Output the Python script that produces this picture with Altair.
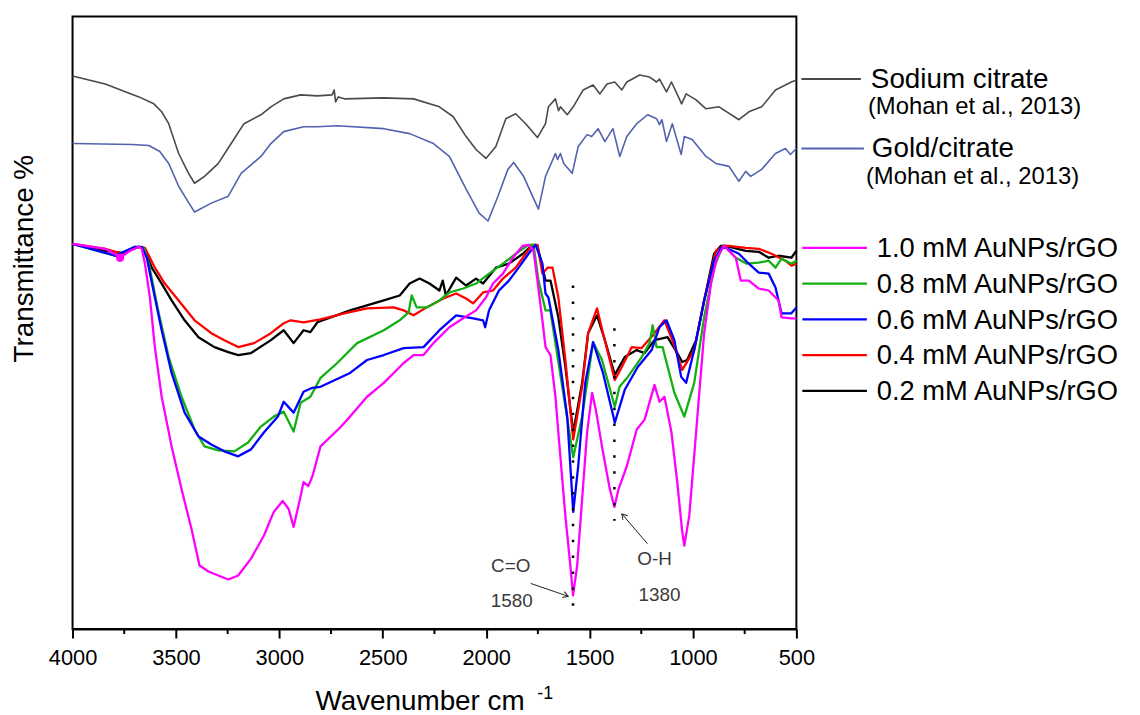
import altair as alt
import pandas as pd

FONT = "Liberation Sans"
W, H = 729, 617

# ---------------- data (wavenumber cm-1, transmittance in arbitrary units) ----------------
na_wn = [4000, 3842, 3679, 3607, 3569, 3535, 3487, 3439, 3410, 3362, 3295, 3233, 3171, 3089, 3041, 2979,
         2897, 2816, 2745, 2735, 2728, 2715, 2686, 2495, 2351, 2226, 2159, 2097, 2049, 2001, 1953, 1905,
         1857, 1809, 1752, 1713, 1699, 1665, 1650, 1641, 1608, 1579, 1531, 1483, 1450, 1416, 1378, 1344,
         1320, 1258, 1210, 1176, 1162, 1128, 1104, 1066, 1055, 1033, 985, 937, 874, 778, 730, 668, 601,
         524, 500]
na_t = [557, 549, 536, 529, 521, 509, 479, 459, 449, 456, 469, 489, 509, 518, 526, 534,
        538, 537, 538, 543, 531, 536, 534, 535, 534, 526, 516, 496, 483, 474, 486, 514,
        519, 509, 495, 509, 526, 534, 522, 526, 518, 526, 543, 548, 539, 549, 551, 543,
        551, 558, 556, 551, 554, 541, 551, 534, 529, 539, 533, 524, 526, 513, 521, 526, 543,
        551, 553]

gc_wn = [4000, 3712, 3631, 3578, 3535, 3487, 3449, 3410, 3329, 3247, 3185, 3089, 3041, 2979, 2883, 2816,
         2720, 2495, 2370, 2255, 2178, 2097, 2034, 1991, 1943, 1895, 1867, 1819, 1776, 1747, 1713, 1665,
         1655, 1641, 1625, 1584, 1555, 1512, 1490, 1459, 1426, 1387, 1354, 1320, 1272, 1219, 1176, 1162,
         1150, 1128, 1100, 1057, 1042, 1004, 937, 889, 826, 778, 745, 721, 668, 601, 553, 529, 500]
gc_t = [489, 488, 487, 481, 469, 446, 433, 420, 429, 436, 459, 476, 489, 501, 506, 506,
        507, 504, 499, 489, 476, 443, 419, 411, 436, 463, 470, 456, 436, 423, 456, 479,
        473, 479, 469, 459, 486, 498, 496, 504, 491, 504, 476, 496, 509, 518, 514, 508,
        513, 491, 509, 478, 496, 493, 476, 469, 466, 451, 461, 456, 463, 479, 484, 478, 484]

m10_wn = [4000, 3842, 3790, 3770, 3750, 3722, 3679, 3665, 3650, 3626, 3602, 3569, 3521, 3473, 3425, 3386,
          3343, 3295, 3247, 3199, 3137, 3075, 3027, 2984, 2955, 2931, 2897, 2883, 2860, 2840, 2801, 2706,
          2658, 2576, 2495, 2399, 2351, 2303, 2255, 2178, 2111, 2049, 2001, 1967, 1919, 1871, 1823, 1795,
          1771, 1752, 1728, 1713, 1689, 1665, 1651, 1617, 1593, 1580, 1560, 1536, 1512, 1488, 1470, 1435,
          1402, 1380, 1360, 1320, 1272, 1234, 1186, 1162, 1138, 1104, 1076, 1052, 1042, 1018, 985, 946,
          913, 884, 850, 841, 793, 769, 730, 682, 634, 586, 572, 524, 500]
m10_t = [388, 383, 377, 374, 377, 381, 385, 383, 368, 334, 284, 234, 184, 141, 101, 64,
         58, 54, 50, 54, 71, 94, 118, 129, 121, 103, 134, 148, 144, 154, 184, 203,
         214, 234, 248, 268, 276, 276, 288, 304, 313, 321, 334, 348, 358, 374, 386, 387,
         381, 351, 311, 284, 276, 234, 198, 114, 64, 34, 64, 131, 198, 238, 221, 178,
         141, 123, 141, 164, 201, 211, 246, 229, 234, 198, 148, 98, 84, 114, 198, 298,
         348, 374, 386, 384, 374, 351, 351, 343, 341, 331, 314, 313, 313]

m08_wn = [4000, 3794, 3698, 3655, 3631, 3583, 3535, 3473, 3410, 3362, 3295, 3218, 3151, 3089, 3027, 2979,
          2931, 2897, 2850, 2801, 2720, 2624, 2495, 2418, 2375, 2360, 2336, 2288, 2226, 2178, 2111, 2049,
          1986, 1919, 1857, 1795, 1771, 1747, 1713, 1690, 1617, 1579, 1536, 1483, 1440, 1378, 1355, 1315,
          1248, 1210, 1195, 1176, 1147, 1090, 1042, 994, 946, 898, 860, 841, 793, 740, 682, 634, 601,
          572, 524, 500]
m08_t = [388, 376, 385, 384, 368, 318, 274, 234, 201, 184, 180, 179, 188, 204, 214, 219,
         199, 228, 234, 253, 268, 288, 301, 311, 319, 336, 324, 324, 331, 339, 343, 348,
         358, 368, 378, 387, 387, 351, 321, 321, 224, 173, 214, 289, 271, 224, 244, 254,
         274, 288, 306, 284, 284, 238, 214, 248, 314, 364, 384, 384, 374, 368, 369, 371, 364,
         373, 368, 371]

m06_wn = [4000, 3842, 3794, 3698, 3665, 3641, 3602, 3569, 3521, 3458, 3391, 3329, 3266, 3199, 3137, 3075,
          3007, 2979, 2931, 2883, 2840, 2801, 2658, 2576, 2495, 2399, 2303, 2226, 2145, 2063, 2015, 2005,
          1986, 1938, 1890, 1843, 1795, 1761, 1728, 1713, 1699, 1651, 1608, 1579, 1555, 1521, 1483, 1435,
          1378, 1330, 1267, 1200, 1162, 1128, 1090, 1057, 1033, 994, 946, 898, 865, 841, 778, 730, 682,
          634, 601, 572, 524, 500]
m06_t = [388, 379, 376, 385, 385, 374, 334, 301, 258, 218, 194, 186, 179, 174, 181, 198,
         214, 229, 218, 239, 243, 244, 258, 271, 276, 283, 284, 301, 316, 313, 311, 304,
         321, 341, 351, 364, 378, 387, 368, 338, 334, 281, 214, 118, 164, 248, 289, 258,
         208, 241, 264, 281, 304, 311, 291, 254, 248, 281, 331, 371, 384, 384, 378, 368, 359,
         358, 344, 318, 318, 324]

m04_wn = [4000, 3842, 3760, 3679, 3650, 3602, 3554, 3487, 3410, 3329, 3266, 3199, 3122, 3041, 2979, 2945,
          2883, 2801, 2686, 2576, 2447, 2399, 2351, 2288, 2207, 2145, 2097, 2063, 2015, 1967, 1919, 1857,
          1809, 1776, 1752, 1728, 1703, 1679, 1651, 1617, 1579, 1536, 1507, 1464, 1435, 1378, 1344, 1296,
          1248, 1186, 1138, 1100, 1052, 994, 946, 889, 850, 826, 745, 682, 620, 553, 524, 500]
m04_t = [388, 383, 378, 385, 384, 364, 348, 331, 311, 298, 291, 284, 288, 298, 308, 311,
         309, 312, 318, 323, 324, 321, 316, 324, 333, 338, 333, 328, 339, 341, 353, 364,
         378, 387, 387, 358, 364, 364, 334, 271, 191, 244, 298, 323, 298, 251, 264, 284,
         283, 298, 311, 291, 261, 281, 331, 381, 386, 386, 384, 383, 378, 371, 366, 368]

m02_wn = [4000, 3842, 3760, 3679, 3655, 3617, 3569, 3521, 3458, 3391, 3314, 3247, 3199, 3137, 3041, 2979,
          2931, 2883, 2850, 2816, 2658, 2495, 2418, 2370, 2322, 2274, 2226, 2210, 2195, 2145, 2097, 2049,
          2015, 1953, 1890, 1823, 1776, 1752, 1713, 1689, 1651, 1617, 1579, 1536, 1507, 1464, 1426, 1378,
          1330, 1272, 1234, 1186, 1123, 1076, 1052, 1028, 985, 946, 898, 865, 841, 745, 682, 634, 586,
          524, 500]
m02_t = [388, 381, 379, 385, 384, 364, 348, 331, 311, 294, 284, 279, 276, 278, 291, 301,
         288, 301, 299, 309, 321, 331, 336, 348, 353, 348, 341, 351, 336, 354, 346, 353,
         348, 364, 368, 378, 387, 386, 351, 351, 314, 264, 198, 248, 298, 316, 291, 256,
         274, 281, 278, 291, 294, 278, 269, 271, 291, 331, 378, 386, 386, 381, 380, 374, 376,
         374, 381]

# decorations
minor_tick_wn = [3750, 3250, 2750, 2250, 1750, 1250, 750]
major_tick_wn = [4000, 3500, 3000, 2500, 2000, 1500, 1000, 500]
peak_wn = [1580, 1380]
peak_top = [346, 303]
peak_bottom = [23, 109]
note_text = ["C=O", "1580", "O-H", "1380"]
note_wn = [1881, 1876, 1186, 1162]
note_t = [64, 28, 71, 34]
arrow_from_wn = [1785, 1220]
arrow_from_t = [46, 86]
arrow_to_wn = [1603, 1344]
arrow_to_t = [33, 116]
arrow_angle = [19, 229]
glitch_wn = [3770]
glitch_t = [374]

upper_labels = ["Sodium citrate", "Gold/citrate"]
upper_colors = ["#4a4a4a", "#5262b0"]
lower_labels = ["1.0 mM AuNPs/rGO", "0.8 mM AuNPs/rGO", "0.6 mM AuNPs/rGO",
                "0.4 mM AuNPs/rGO", "0.2 mM AuNPs/rGO"]
lower_colors = ["#ff00ff", "#12b012", "#0000ff", "#ff0000", "#000000"]
ref_label = "(Mohan et al., 2013)"

# ---------------- chart ----------------
x_enc = alt.X("wn:Q",
              scale=alt.Scale(domain=[500, 4000], reverse=True, nice=False, zero=False),
              axis=alt.Axis(values=major_tick_wn, format="d", title=None, grid=False,
                            tickSize=9, tickWidth=2, tickColor="black",
                            domainColor="black", domainWidth=2,
                            labelFont=FONT, labelFontSize=22, labelColor="black",
                            labelPadding=10, labelFlush=False, labelOverlap=False))
y_scale = alt.Scale(domain=[0, H], nice=False, zero=False)


def line_layer(wn, t, color, width):
    df = pd.DataFrame({"wn": wn, "t": t})
    return alt.Chart(df).mark_line(color=color, strokeWidth=width, strokeJoin="round").encode(
        x=x_enc, y=alt.Y("t:Q", scale=y_scale, axis=None))


layers = [
    line_layer(na_wn, na_t, upper_colors[0], 1.6),
    line_layer(gc_wn, gc_t, upper_colors[1], 1.6),
    line_layer(m02_wn, m02_t, lower_colors[4], 2.3),
    line_layer(m04_wn, m04_t, lower_colors[3], 2.3),
    line_layer(m08_wn, m08_t, lower_colors[1], 2.3),
    line_layer(m06_wn, m06_t, lower_colors[2], 2.3),
    line_layer(m10_wn, m10_t, lower_colors[0], 2.3),
]

layers.append(alt.Chart(pd.DataFrame({"wn": glitch_wn, "t": glitch_t})).mark_point(
    filled=True, color=lower_colors[0], size=70, opacity=1).encode(
    x=x_enc, y=alt.Y("t:Q", scale=y_scale, axis=None)))

# minor ticks
layers.append(alt.Chart(pd.DataFrame({"wn": minor_tick_wn})).mark_rule(
    color="black", strokeWidth=2).encode(x=x_enc, y=alt.value(H), y2=alt.value(H + 5)))

# dotted guide lines
layers.append(alt.Chart(pd.DataFrame({"wn": peak_wn, "t": peak_top, "t2": peak_bottom})).mark_rule(
    color="black", strokeWidth=2.5, strokeDash=[2.5, 13.5]).encode(
    x=x_enc, y=alt.Y("t:Q", scale=y_scale, axis=None), y2="t2:Q"))

# annotation texts
layers.append(alt.Chart(pd.DataFrame({"wn": note_wn, "t": note_t, "s": note_text})).mark_text(
    font=FONT, fontSize=19, color="#3a3a3a", align="center", baseline="middle").encode(
    x=x_enc, y=alt.Y("t:Q", scale=y_scale, axis=None), text="s:N"))

# arrows
layers.append(alt.Chart(pd.DataFrame({"wn": arrow_from_wn, "t": arrow_from_t,
                                      "wn2": arrow_to_wn, "t2": arrow_to_t})).mark_rule(
    color="#222222", strokeWidth=1).encode(
    x=x_enc, x2="wn2:Q", y=alt.Y("t:Q", scale=y_scale, axis=None), y2="t2:Q"))
for i in range(2):
    layers.append(alt.Chart(pd.DataFrame({"wn": [arrow_to_wn[i]], "t": [arrow_to_t[i]]})).mark_point(
        shape="M -1 -0.6 L 0 0 L -1 0.6", filled=False, color="#222222", strokeWidth=1,
        size=110, angle=arrow_angle[i], opacity=1).encode(
        x=x_enc, y=alt.Y("t:Q", scale=y_scale, axis=None)))

# axis titles
one = pd.DataFrame({"k": [0]})
layers.append(alt.Chart(one).mark_text(text="Transmittance %", font=FONT, fontSize=28, angle=270,
                                       align="center", baseline="middle", color="black").encode(
    x=alt.value(-48), y=alt.value(244)))
layers.append(alt.Chart(one).mark_text(text="Wavenumber cm", font=FONT, fontSize=28,
                                       align="center", baseline="middle", color="black").encode(
    x=alt.value(350), y=alt.value(690)))
layers.append(alt.Chart(one).mark_text(text="-1", font=FONT, fontSize=18,
                                       align="center", baseline="middle", color="black").encode(
    x=alt.value(476), y=alt.value(682)))

# legend (drawn by hand to the right of the frame)
up_y = [63, 133]
up_x2 = [794, 797]
up_tx = [804, 805]
ref_tx = [801, 799]
for i in range(2):
    layers.append(alt.Chart(one).mark_rule(color=upper_colors[i], strokeWidth=1.8).encode(
        x=alt.value(734), x2=alt.value(up_x2[i]), y=alt.value(up_y[i])))
    layers.append(alt.Chart(one).mark_text(text=upper_labels[i], font=FONT, fontSize=28,
                                           align="left", baseline="middle", color="black").encode(
        x=alt.value(up_tx[i]), y=alt.value(up_y[i] + 1)))
    layers.append(alt.Chart(one).mark_text(text=ref_label, font=FONT, fontSize=24,
                                           align="left", baseline="middle", color="black").encode(
        x=alt.value(ref_tx[i]), y=alt.value(up_y[i] + 28.5)))
for i, lab in enumerate(lower_labels):
    yy = 233 + 36 * i
    layers.append(alt.Chart(one).mark_rule(color=lower_colors[i], strokeWidth=2.2).encode(
        x=alt.value(735), x2=alt.value(800), y=alt.value(yy)))
    layers.append(alt.Chart(one).mark_text(text=lab, font=FONT, fontSize=27.5,
                                           align="left", baseline="middle", color="black").encode(
        x=alt.value(810), y=alt.value(yy + 1.5)))

chart = alt.layer(*layers).properties(
    width=W, height=H,
    autosize=alt.AutoSizeParams(type="none"),
    padding={"left": 65, "top": 6, "right": 338, "bottom": 84},
).configure_view(stroke="black", strokeWidth=2)

chart.save("out.html", embed_options={"renderer": "svg", "actions": False})
